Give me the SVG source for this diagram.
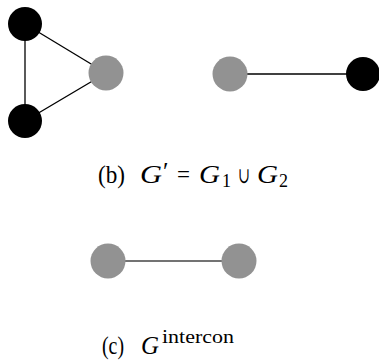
<svg xmlns="http://www.w3.org/2000/svg" width="379" height="360" viewBox="0 0 379 360">
<style>
.blk{fill:#000}
.gry{fill:#929292}
.e{stroke:#000;stroke-width:1.3;fill:none}
.e2{stroke:#444;stroke-width:1.5;fill:none}
.t{font-family:"Liberation Serif","Times New Roman",serif;font-size:25px;fill:#000}
.s{font-size:18px}
.i{font-style:italic}
</style>
<rect width="379" height="360" fill="#fff"/>
<g id="connectors">
<line class="e" x1="25" y1="24" x2="25" y2="121"/>
<line class="e" x1="25" y1="24" x2="106" y2="73"/>
<line class="e" x1="25" y1="121" x2="106" y2="73"/>
<line class="e" x1="230" y1="74" x2="363" y2="74"/>
<line class="e2" x1="108" y1="261" x2="239" y2="261"/>
</g>
<g id="n1"><circle class="blk" cx="25" cy="24" r="17"/></g>
<g id="n2"><circle class="blk" cx="25" cy="121" r="17"/></g>
<g id="n3"><circle class="gry" cx="106" cy="73" r="17.5"/></g>
<g id="n4"><circle class="gry" cx="230" cy="74" r="17.5"/></g>
<g id="n5"><circle class="blk" cx="363" cy="74" r="17"/></g>
<g id="n6"><circle class="gry" cx="108" cy="261" r="17.5"/></g>
<g id="n7"><circle class="gry" cx="239" cy="261" r="17.5"/></g>
<g id="caption-b">
<text class="t" x="98" y="183" textLength="27" lengthAdjust="spacingAndGlyphs">(b)</text>
<text class="t i" x="140" y="183" textLength="22" lengthAdjust="spacingAndGlyphs">G</text>
<text class="t" x="163" y="180" font-size="22">′</text>
<text class="t" x="177" y="183" textLength="13" lengthAdjust="spacingAndGlyphs">=</text>
<text class="t i" x="199" y="183" textLength="21" lengthAdjust="spacingAndGlyphs">G</text>
<text class="t s" x="222" y="187" textLength="9" lengthAdjust="spacingAndGlyphs">1</text>
<text x="238" y="183" font-family="DejaVu Serif, serif" font-size="22" textLength="12" lengthAdjust="spacingAndGlyphs">∪</text>
<text class="t i" x="257" y="183" textLength="21" lengthAdjust="spacingAndGlyphs">G</text>
<text class="t s" x="279" y="187" textLength="9" lengthAdjust="spacingAndGlyphs">2</text>
</g>
<g id="caption-c">
<text class="t" x="102" y="354" textLength="22" lengthAdjust="spacingAndGlyphs">(c)</text>
<text class="t i" x="141" y="354" textLength="18" lengthAdjust="spacingAndGlyphs">G</text>
<text class="t s" x="162" y="343" textLength="72" lengthAdjust="spacingAndGlyphs">intercon</text>
</g>
</svg>
